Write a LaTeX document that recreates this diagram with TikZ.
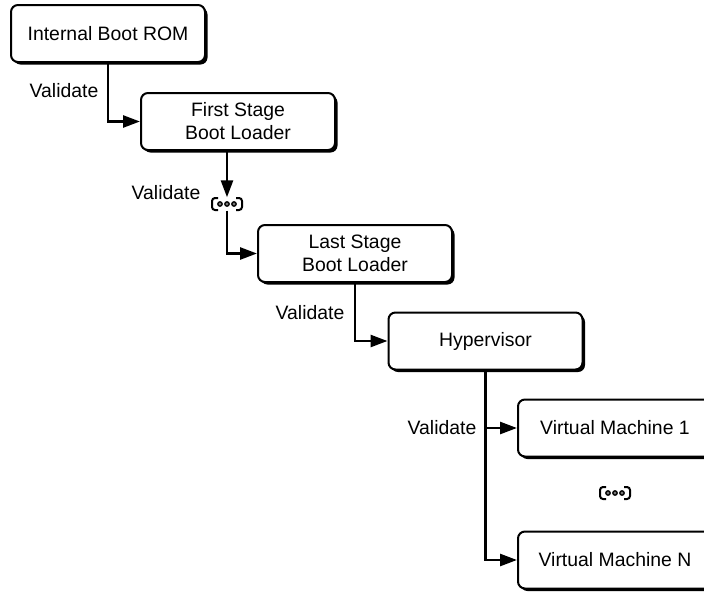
\documentclass[tikz,border=0pt]{standalone}
\usepackage{fontspec}
\setmainfont{Liberation Sans}
\usetikzlibrary{arrows.meta,shadows}
\begin{document}
\begin{tikzpicture}[x=1pt,y=-1pt,
  box/.style={draw, line width=2pt, rounded corners=7pt, fill=white,
    minimum width=194pt, minimum height=57pt, inner sep=0pt, align=center,
    font=\fontsize{19.4}{23}\selectfont,
    drop shadow={shadow xshift=2.5pt, shadow yshift=-2.5pt, fill=black, opacity=1}},
  lbl/.style={font=\fontsize{19.4}{23}\selectfont, inner sep=0pt},
  conn/.style={line width=2.6pt, -{Triangle[length=17pt,width=12pt]}},
  iconbox/.style={minimum width=31pt, minimum height=13pt, inner sep=0pt},
  bracket/.style={line width=2pt, rounded corners=3pt},
  dotmark/.style={draw=black, line width=1.3pt, fill=black!55}
]
\clip (0,0) rectangle (704,592);
\fill[white] (0,0) rectangle (704,592);

\node[box] (rom)  at (108,33.5)  {Internal Boot ROM};
\node[box] (fsbl) at (238,121.5) {First Stage\\Boot Loader};
\node[box] (lsbl) at (355,253.5) {Last Stage\\Boot Loader};
\node[box] (hyp)  at (485.5,341) {Hypervisor};
\node[box] (vm1)  at (615,428)   {Virtual Machine 1};
\node[box] (vmn)  at (615,560)   {Virtual Machine N};

\node[iconbox] (d1) at (227,204) {};
\node[iconbox] (d2) at (615,493) {};
\foreach \n in {d1,d2}{
  \begin{scope}[shift={(\n.center)}]
    \draw[bracket] (-9,-6) -- (-15,-6) -- (-15,6) -- (-9,6);
    \draw[bracket] (9,-6) -- (15,-6) -- (15,6) -- (9,6);
    \draw[dotmark] (-7,0) circle (2.2pt);
    \draw[dotmark] (0,0) circle (2.2pt);
    \draw[dotmark] (7,0) circle (2.2pt);
  \end{scope}
}

\node[lbl] (v1) at (64,91)   {Validate};
\node[lbl] (v2) at (166,193) {Validate};
\node[lbl] (v3) at (310,313) {Validate};
\node[lbl] (v4) at (442,428) {Validate};

\draw[conn] (rom.south) |- (fsbl.west);
\draw[conn] (d1.north |- fsbl.south) -- (d1.north);
\draw[conn] (d1.south) |- (lsbl.west);
\draw[conn] (lsbl.south) |- (hyp.west);
\draw[conn] (hyp.south) |- (vmn.west);
\coordinate (br) at (hyp.south |- vm1.west);
\draw[conn] (br) -- (vm1.west);
\end{tikzpicture}
\end{document}
